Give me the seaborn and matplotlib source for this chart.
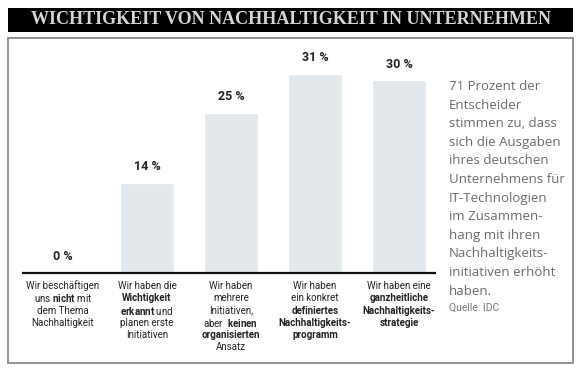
import matplotlib.pyplot as plt
import matplotlib.patches as patches
import matplotlib.transforms as mtransforms
import seaborn as sns
import pandas as pd

# data
categories = ["keine", "erkannt", "mehrere", "programm", "strategie"]
values = [0, 14, 25, 31, 30]
value_labels = [f"{v} %" for v in values]

# label lines: (text, bold-whole-line)
cat_lines = [
    [("Wir beschäftigen", False), ("uns $\\mathbf{nicht}$ mit", False),
     ("dem Thema", False), ("Nachhaltigkeit", False)],
    [("Wir haben die", False), ("Wichtigkeit", True),
     ("$\\mathbf{erkannt}$ und", False), ("planen erste", False), ("Initiativen", False)],
    [("Wir haben", False), ("mehrere", False), ("Initiativen,", False),
     ("aber  $\\mathbf{keinen}$", False), ("organisierten", True), ("Ansatz", False)],
    [("Wir haben", False), ("ein konkret", False), ("definiertes", True),
     ("Nachhaltigkeits-", True), ("programm", True)],
    [("Wir haben eine", False), ("ganzheitliche", True),
     ("Nachhaltigkeits-", True), ("strategie", True)],
]

title = "WICHTIGKEIT VON NACHHALTIGKEIT IN UNTERNEHMEN"
side_text = ("71 Prozent der\nEntscheider\nstimmen zu, dass\nsich die Ausgaben\n"
             "ihres deutschen\nUnternehmens für\nIT-Technologien\nim Zusammen-\n"
             "hang mit ihren\nNachhaltigkeits-\ninitiativen erhöht\nhaben.")
source = "Quelle: IDC"

sns.set_style("white")
plt.rcParams["font.family"] = ["Roboto", "DejaVu Sans"]
plt.rcParams["mathtext.fontset"] = "custom"
plt.rcParams["mathtext.rm"] = "Roboto"
plt.rcParams["mathtext.bf"] = "Roboto:bold"

W, H = 580, 373
fig = plt.figure(figsize=(W / 100, H / 100), dpi=100)

def fx(px):
    return px / W

def fy(py):
    return 1 - py / H

# frame and title band
fig.patches.append(patches.Rectangle((fx(8), fy(363)), fx(565), (363 - 38) / H,
                                     transform=fig.transFigure, fill=False,
                                     edgecolor="#8a8a8a", lw=1.3))
fig.patches.append(patches.Rectangle((fx(8), fy(32)), fx(565), 24 / H,
                                     transform=fig.transFigure, facecolor="black",
                                     edgecolor="none"))
fig.text(fx(291), fy(20), title, ha="center", va="center", color="#d6d6d6",
         family="Liberation Serif", weight="bold", fontsize=13)

ax = fig.add_axes([fx(23), fy(273), fx(412), 233 / H])
df = pd.DataFrame({"cat": categories, "val": values})
sns.barplot(data=df, x="cat", y="val", color="#e3e8ec", width=0.64,
            saturation=1, ax=ax)
ax.set_xlim(-0.476, 4.43)
ax.set_ylim(0, 36.3)
ax.bar_label(ax.containers[0], labels=value_labels, padding=7,
             fontsize=9, fontweight="bold", color="#222222")
for s in ["top", "left", "right"]:
    ax.spines[s].set_visible(False)
ax.spines["bottom"].set_color("#111111")
ax.spines["bottom"].set_linewidth(1.6)
ax.set_xticks([])
ax.set_yticks([])
ax.set_xlabel("")
ax.set_ylabel("")

trans = mtransforms.blended_transform_factory(ax.transData, fig.transFigure)
for i, lines in enumerate(cat_lines):
    for j, (txt, bold) in enumerate(lines):
        ax.text(i, fy(286 + 12.3 * j), txt, transform=trans, ha="center",
                va="center", fontsize=7, color="#222222",
                fontweight="bold" if bold else "normal")

fig.text(fx(449), fy(80), side_text, ha="left", va="top", fontsize=9.5,
         color="#6a6a6a", family="Open Sans", linespacing=1.56)
fig.text(fx(449), fy(308), source, ha="left", va="center", fontsize=7.5,
         color="#777777")

fig.savefig("out.png", dpi=100)
